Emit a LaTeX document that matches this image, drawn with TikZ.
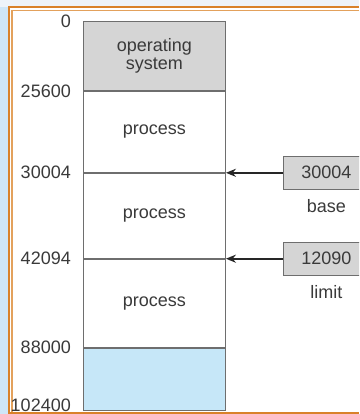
\documentclass[tikz,border=0pt]{standalone}
\usepackage{fontspec}
\setmainfont{Liberation Sans}
\usetikzlibrary{positioning, arrows.meta}

\definecolor{inkgray}{HTML}{3A3A3A}
\definecolor{linegray}{HTML}{6E6E6E}
\definecolor{osgray}{HTML}{D5D5D5}
\definecolor{freeblue}{HTML}{C6E7F8}
\definecolor{topbg}{HTML}{EEF3F9}
\definecolor{sidebg}{HTML}{CFE6F7}
\definecolor{frameout}{HTML}{D9812A}
\definecolor{framein}{HTML}{E3A15C}

\tikzset{
	seg/.style={draw=linegray, line width=0.9pt, minimum width=142pt, inner sep=0pt,
		text=inkgray, align=center, font=\fontsize{18}{21}\selectfont},
	addr/.style={text=inkgray, inner sep=0pt, anchor=east, font=\fontsize{18}{21}\selectfont},
	reg/.style={draw=linegray, line width=0.9pt, fill=osgray, minimum width=86pt,
		minimum height=33pt, inner sep=0pt, text=inkgray, font=\fontsize{18}{21}\selectfont},
	regname/.style={text=inkgray, inner sep=0pt, font=\fontsize{18}{21}\selectfont},
	regarrow/.style={draw=black!85, line width=2pt, -{Stealth[length=10pt, width=8pt]}},
}

\begin{document}
\begin{tikzpicture}[x=1pt, y=-1pt]
	\useasboundingbox (0,0) rectangle (359,414);
	\clip (0,0) rectangle (359,414);

	% page frame
	\fill[topbg]  (0,0) rectangle (359,414);
	\fill[sidebg] (0,7) rectangle (9,414);
	\fill[white]  (9,7) rectangle (359,413);
	\draw[frameout, line width=2pt]   (359,7) -- (9,7) -- (9,414);
	\draw[framein,  line width=1.5pt] (359,10.5) -- (12,10.5) -- (12,414);
	\draw[frameout, line width=1.5pt] (9,413) -- (359,413);

	% memory
	\node[seg, fill=osgray, minimum height=69pt, anchor=north west] (os) at (83,21) {operating\\[-3pt]system};
	\node[seg, minimum height=81pt] 				(p1) [below=0pt of os] 	{process};
	\node[seg, minimum height=85pt] 				(p2) [below=0pt of p1] 	{process};
	\node[seg, minimum height=88pt] 				(p3) [below=0pt of p2] 	{process};
	\node[seg, fill=freeblue, minimum height=62pt] 	(fr) [below=0pt of p3] 	{};

	% addresses
	\node[addr] (a0) [left=12pt of os.north west] {0};
	\node[addr] (a1) [left=12pt of os.south west] {25600};
	\node[addr] (a2) [left=12pt of p2.north west] {30004};
	\node[addr] (a3) [left=12pt of p3.north west] {42094};
	\node[addr] (a4) [left=12pt of fr.north west] {88000};
	\node[addr] (a5) [left=12pt of fr.south west, yshift=5pt] {102400};

	% registers
	\node[reg] 		(base) 	[right=57pt of p2.north east] 	{30004};
	\node[regname] 	(bn) 	[below=10pt of base] 			{base};
	\node[reg] 		(limit) [right=57pt of p3.north east] 	{12090};
	\node[regname] 	(ln) 	[below=10pt of limit] 			{limit};

	\draw[regarrow] (base.west)  -- (p2.north east);
	\draw[regarrow] (limit.west) -- (p3.north east);

\end{tikzpicture}
\end{document}
